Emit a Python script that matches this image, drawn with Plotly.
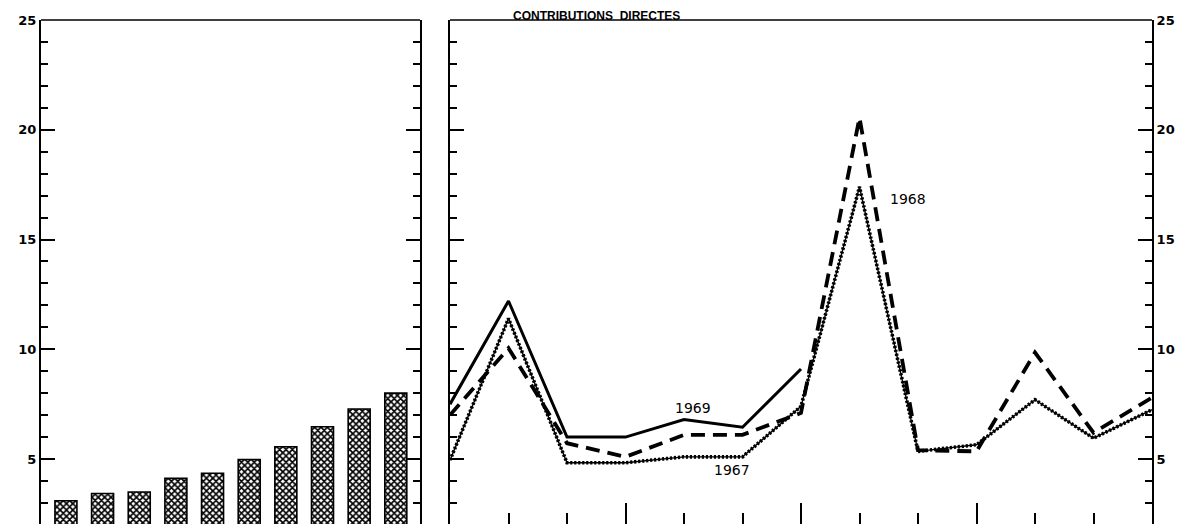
import plotly.graph_objects as go

# ---- data ----
bar_categories = list(range(10))
bar_values = [3.1, 3.43, 3.5, 4.12, 4.35, 4.98, 5.56, 6.47, 7.28, 8.0]

months = list(range(13))
y1969 = [7.5, 12.2, 6.0, 6.0, 6.8, 6.45, 9.1]
y1968 = [7.0, 10.05, 5.72, 5.1, 6.1, 6.1, 7.1, 20.55, 5.4, 5.35, 9.85, 6.2, 7.8]
y1967 = [4.95, 11.4, 4.83, 4.83, 5.1, 5.1, 7.4, 17.4, 5.35, 5.65, 7.7, 5.95, 7.25]

y_ticks = [5, 10, 15, 20, 25]
y_ticklabels = ["5", "10", "15", "20", "25"]

title_text = "CONTRIBUTIONS  DIRECTES"
label_1969 = "1969"
label_1968 = "1968"
label_1967 = "1967"

# page body has an 8px margin: work in reference-page pixels, convert to figure pixels
OFF = 8
W, H = 1184 - OFF, 524 - OFF


def fx(px):
    return (px - OFF) / W


def fy(py):
    return 1 - (py - OFF) / H


YRANGE = [2.04, 25]
dom_top = fy(20)
L1 = [fx(41), fx(420)]
L2 = [fx(450), fx(1152)]

fig = go.Figure()

fig.add_trace(go.Bar(
    x=bar_categories, y=bar_values, width=0.6,
    marker=dict(color="white", line=dict(color="black", width=1.6),
                pattern=dict(shape="x", fgcolor="black", bgcolor="white", size=4.5, solidity=0.6)),
    xaxis="x", yaxis="y", showlegend=False,
))

# 1967 beaded line: thin base + dots
fig.add_trace(go.Scatter(x=months, y=y1967, mode="lines",
                         line=dict(color="black", width=1.4),
                         xaxis="x2", yaxis="y2", showlegend=False))
fig.add_trace(go.Scatter(x=months, y=y1967, mode="lines",
                         line=dict(color="black", width=3.6, dash="2.2px,1.8px"),
                         xaxis="x2", yaxis="y2", showlegend=False))
fig.add_trace(go.Scatter(x=months, y=y1968, mode="lines",
                         line=dict(color="black", width=3.8, dash="14px,8px"),
                         xaxis="x2", yaxis="y2", showlegend=False))
fig.add_trace(go.Scatter(x=months[:len(y1969)], y=y1969, mode="lines",
                         line=dict(color="black", width=3),
                         xaxis="x2", yaxis="y2", showlegend=False))

tickfont = dict(family="DejaVu Sans", size=13, color="black", weight="bold")
minor = dict(dtick=1, ticks="inside", ticklen=7, tickwidth=1.5, tickcolor="black")
lblfont = dict(family="DejaVu Sans", size=14, color="black")

fig.update_layout(
    template="none",
    width=W, height=H,
    margin=dict(l=0, r=0, t=0, b=0),
    paper_bgcolor="white", plot_bgcolor="white",
    showlegend=False,
    xaxis=dict(domain=L1, range=[-0.68, 9.66], showticklabels=False, ticks="",
               showgrid=False, zeroline=False, showline=False, automargin=False),
    yaxis=dict(domain=[0, dom_top], range=YRANGE, tickvals=y_ticks, ticktext=y_ticklabels,
               ticks="inside", ticklen=14, tickwidth=2, tickcolor="black",
               minor=minor, showline=True, linewidth=2, linecolor="black", mirror="allticks",
               showgrid=False, zeroline=False, tickfont=tickfont, automargin=False, anchor="x"),
    xaxis2=dict(domain=L2, range=[0, 12], tick0=0, dtick=3, ticks="inside", ticklen=21,
                tickwidth=1.5, tickcolor="black",
                minor=dict(dtick=1, ticks="inside", ticklen=11, tickwidth=1.5, tickcolor="black"),
                showticklabels=False, showgrid=False, zeroline=False, showline=False,
                automargin=False, anchor="y2"),
    yaxis2=dict(domain=[0, dom_top], range=YRANGE, tickvals=y_ticks, ticktext=y_ticklabels,
                side="right", ticks="inside", ticklen=14, tickwidth=2, tickcolor="black",
                minor=minor, showline=True, linewidth=2, linecolor="black", mirror="ticks",
                showgrid=False, zeroline=False, tickfont=tickfont, automargin=False, anchor="x2"),
    shapes=[
        dict(type="line", xref="x domain", yref="paper", x0=0, x1=1, y0=dom_top, y1=dom_top,
             line=dict(color="black", width=1.5)),
        dict(type="line", xref="x2 domain", yref="paper", x0=0, x1=1, y0=dom_top, y1=dom_top,
             line=dict(color="black", width=1.5)),
    ],
    annotations=[
        dict(text=title_text, xref="paper", yref="paper", x=fx(596), y=1.0,
             showarrow=False, font=dict(family="Liberation Sans", size=12, color="black", weight="bold"),
             xanchor="center", yanchor="top", borderpad=0),
        dict(text=label_1969, xref="paper", yref="paper", x=fx(693), y=fy(408),
             xanchor="center", yanchor="middle", showarrow=False, font=lblfont),
        dict(text=label_1967, xref="paper", yref="paper", x=fx(732), y=fy(470),
             xanchor="center", yanchor="middle", showarrow=False, font=lblfont),
        dict(text=label_1968, xref="paper", yref="paper", x=fx(908), y=fy(199),
             xanchor="center", yanchor="middle", showarrow=False, font=lblfont),
    ],
)

fig.write_html("out.html")
